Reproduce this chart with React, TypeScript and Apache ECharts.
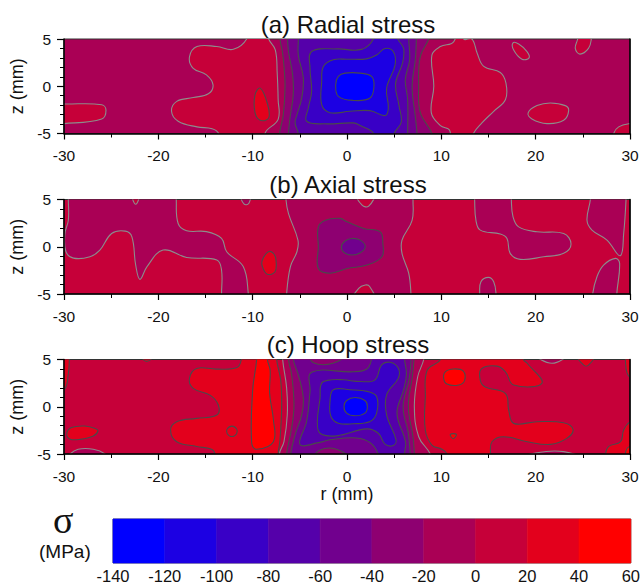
import React, { useEffect, useRef } from "react";
import * as echarts from "echarts";

type Pt = [number, number];
type Region = [number, Pt[]];

const FONT = "'Liberation Sans', Arial, sans-serif";
const colorLevels = [-140, -120, -100, -80, -60, -40, -20, 0, 20, 40, 60];
const bandColors = ["#0000ff", "#1c00e3", "#3900c6", "#5500aa", "#71008e", "#8e0071", "#aa0055", "#c60039", "#e3001c", "#ff0000"];
const colorTickLabels = ["-140", "-120", "-100", "-80", "-60", "-40", "-20", "0", "20", "40", "60"];
const titles = ["(a) Radial stress", "(b) Axial stress", "(c) Hoop stress"];

const radialRegions: Region[] = [
  [7, [[-32, -1.85], [-30, -1.88], [-26, -1.95], [-25.55, -2.54], [-26, -3.46], [-30, -3.95], [-32, -3.95]]],
  [7, [[-10.3, 7], [-10.64, 5], [-12.05, 3.91], [-13.8, 4.2], [-15.9, 4.2], [-16.7, 3.1], [-16.3, 1.9], [-14.9, 1.2], [-14.2, 0.15], [-14.7, -0.8], [-16.3, -1.2], [-18.05, -1.6], [-18.6, -2.65], [-17.9, -3.7], [-15.9, -4.3], [-14.3, -4.5], [-13.6, -5], [-13, -7], [-8.3, -7], [-8.7, -5], [-7.3, -3.5], [-7.3, -1.4], [-7.4, 1.4], [-7.6, 3.85], [-8.3, 5], [-8.8, 7]]],
  [8, [[-9.2, -0.2], [-9.75, -0.9], [-9.75, -2.8], [-9.2, -3.6], [-8.3, -3.35], [-8.45, -1.8]]],
  [7, [[12, 7], [12.37, 5], [13.25, 5], [13.8, 3.5], [14.5, 2.1], [16.25, 1.46], [16.85, 0.33], [16.8, -1.4], [15.55, -2.65], [14.3, -3.88], [13.4, -5], [12.8, -7], [11, -7], [10.9, -4.7], [9.9, -4.16], [8.94, -2.82], [9.2, 0], [9, 3.3], [9.9, 4.2], [11.3, 4.7]]],
  [7, [[17.6, 4.6], [17.67, 3.84], [18.55, 2.86], [19.3, 3], [19.08, 3.67], [18.2, 4.47]]],
  [7, [[24.7, 7], [24.45, 5], [24.2, 4], [24.7, 3.4], [25.6, 4], [25.9, 5], [26, 7]]],
  [7, [[19.2, -2.82], [20.14, -2.05], [21.55, -1.77], [23.14, -2.05], [23.5, -2.58], [22.97, -3.6], [21.2, -3.95], [19.6, -3.46]]],
  [7, [[28, -7], [28.27, -5], [28.8, -4.3], [30, -3.95], [32, -3.8], [32, -7]]],
  [5, [[-7.1, 7], [-7.1, 5], [-6.8, 3.3], [-6.57, 0.2], [-6.75, -3], [-7.15, -5], [-7.15, -7], [9.3, -7], [9, -5], [7.77, -2.8], [7.6, 0], [7.77, 3.14], [8.66, 5], [9.2, 7]]],
  [4, [[-6.3, 7], [-6.3, 5], [-6.2, 3.67], [-5.76, 1.2], [-5.7, -0.9], [-6.04, -3.35], [-6.2, -5], [-6.2, -7], [7.45, -7], [7.42, -5], [7.24, -3.2], [6.9, 0], [7.24, 2.8], [7.35, 5], [7.35, 7]]],
  [3, [[-5.16, 7], [-5.16, 5], [-5.16, 3.3], [-4.63, 0.86], [-4.8, -1.25], [-5.3, -3], [-5.5, -3.9], [-5.16, -5], [-5.1, -7], [6.43, -7], [6.43, -5], [6.43, -1.42], [6.18, 0.68], [6.64, 2.8], [6.54, 5], [6.54, 7]]],
  [2, [[3.2, 7], [2.8, 5], [1.55, 3.9], [-1.1, 3.95], [-3.75, 3.67], [-3.92, 1.9], [-3.75, -0.54], [-4.1, -2.3], [-4.28, -3.7], [-2.16, -3.98], [0.67, -3.88], [1.4, -4.16], [2.83, -5], [3.2, -7], [4.6, -7], [5, -5], [5.75, -3.8], [5.5, -2], [5.15, 0.3], [5.9, 2.5], [6, 4], [5.4, 5], [5, 7]]],
  [1, [[-0.03, 2.86], [-1.45, 2.8], [-2.5, 2.1], [-2.68, 0.5], [-2.68, -1.95], [-1.8, -2.8], [0.3, -2.65], [2.44, -2.58], [4.03, -3.1], [4.38, -2.3], [4.2, -0.2], [5.1, 2.26], [4.9, 3.67], [4.03, 4], [3.14, 3.3], [2.08, 2.9]]],
  [0, [[-0.92, 1.04], [-1.2, 0.16], [-0.92, -1.07], [0.67, -1.5], [2.44, -1.25], [2.86, 0], [2.6, 1.04], [1.38, 1.39], [-0.2, 1.39]]],
];

const axialRegions: Region[] = [
  [6, [[-29.54, 7], [-29.54, 5], [-29.54, 2.8], [-29.9, 1.4], [-29.8, -0.5], [-29, -1.2], [-27.25, -1.05], [-26.2, -0.35], [-24.95, 1.4], [-23.5, 1.65], [-22.8, 1.05], [-22.4, -1.95], [-21.95, -3.45], [-21.2, -2.1], [-19.5, -0.35], [-17, -1.13], [-13.8, -1.4], [-13.3, -2.46], [-13.3, -5], [-13.3, -7], [-10.4, -7], [-10.46, -5], [-11, -2.1], [-12.75, -0.53], [-13.3, 0.88], [-14.9, 1.6], [-17, 1.7], [-17.9, 2.46], [-18.1, 5], [-18.1, 7]]],
  [7, [[-22.8, 5.6], [-22.4, 4.5], [-22, 5.6]]],
  [6, [[-11.3, 5.6], [-10.9, 4.5], [-10.4, 4.6], [-10.3, 5.6]]],
  [8, [[-8.34, -0.53], [-8.97, -1.4], [-8.97, -2.1], [-8.45, -2.9], [-7.63, -2.64], [-7.53, -1.4], [-7.8, -0.7]]],
  [6, [[-6.5, 7], [-6.47, 5], [-6.2, 3.5], [-5.2, 0.7], [-5.3, -0.5], [-6, -2.1], [-6.4, -5], [-6.4, -7], [6.8, -7], [6.78, -5], [6.54, -2.8], [5.83, -0.7], [5.83, 0.7], [6.9, 2.8], [7, 5], [7, 7]]],
  [7, [[1, 5.6], [1.6, 4.4], [2.3, 4.3], [2.9, 5.6]]],
  [7, [[0.5, -5.8], [1.24, -4.4], [1.94, -4.05], [2.4, -4.2], [3, -5.8]]],
  [5, [[-3.04, 2.1], [-2.3, 2.8], [-0.74, 3], [0, 2.64], [1.77, 1.94], [3.53, 1.58], [3.8, 0.35], [3.7, -1.06], [2.12, -1.94], [0, -2.3], [-1.77, -2.8], [-3.04, -2.3], [-3.04, 0]]],
  [4, [[-0.6, 0], [-0.18, 0.63], [0.53, 0.88], [1.41, 0.7], [1.94, 0], [1.41, -0.63], [0.53, -0.88], [-0.28, -0.63]]],
  [6, [[13.5, 7], [13.53, 5], [13.67, 2.8], [14.13, 1.76], [16.25, 1.34], [16.96, 0.88], [17.3, -0.7], [18.37, -1.34], [20.85, -1.06], [22.97, -0.7], [23.75, 0.28], [22.97, 1.4], [20.14, 1.58], [18.2, 2.1], [17.6, 3.17], [17.42, 5], [17.4, 7]]],
  [6, [[25.9, 7], [25.8, 5], [25.44, 2.8], [25.97, 1.76], [27.56, 0.7], [28.97, -0.95], [29.33, 1.4], [29.58, 5], [29.6, 7]]],
  [6, [[26, -7], [26.04, -5], [26.5, -3.17], [27.2, -1.94], [28.45, -1.23], [28.9, -1.76], [28.6, -5], [28.6, -7]]],
  [6, [[14, -7], [14.06, -5], [14.2, -3.7], [15, -3.24], [15.55, -3.7], [15.8, -5], [15.8, -7]]],
];

const hoopRegions: Region[] = [
  [8, [[-32, 7], [-29.3, 7], [-29.43, 5], [-29.54, 3.5], [-30, 1.76], [-32, 0.8]]],
  [8, [[-29.7, -2.8], [-29.2, -2.2], [-27.8, -2.04], [-26.7, -2.3], [-26.4, -2.56], [-26.9, -3.1], [-28.3, -3.45], [-29.4, -3.4]]],
  [6, [[-30, -5.9], [-29.36, -5], [-28.5, -4.5], [-26.9, -4.5], [-25.65, -5], [-25, -5.9]]],
  [8, [[-21.9, 5.5], [-21.24, 4.8], [-20.4, 5.5]]],
  [8, [[-11, 7], [-11.2, 5], [-11.66, 4.15], [-13.85, 3.98], [-15.93, 4.05], [-16.7, 3], [-16.3, 1.94], [-14.52, 1.23], [-13.64, 0.18], [-13.8, -0.88], [-15.93, -1.23], [-18.05, -1.58], [-18.7, -2.46], [-18.05, -3.7], [-15.93, -4.2], [-14.35, -4.5], [-14, -5], [-13.9, -7], [-7.3, -7], [-7.3, -5], [-7.1, -3.5], [-6.93, 0], [-7.03, 2.8], [-7.46, 5], [-7.5, 7]]],
  [9, [[-9.6, 7], [-9.58, 5], [-10, 1.76], [-10.1, -3.87], [-9.58, -4.5], [-7.8, -3.7], [-7.8, -1.4], [-8.2, 1.4], [-8.15, 3.87], [-8.44, 5], [-8.44, 7]]],
  [8, [[-12.2, -2.05], [-11.7, -2.35], [-11.7, -2.85], [-12.2, -3.15], [-12.7, -2.85], [-12.7, -2.35]]],
  [8, [[10.2, 7], [9.9, 5], [8.5, 3.87], [8.3, 1.05], [8.3, -2.46], [9, -4.05], [10.07, -4.5], [10.6, -5], [10.8, -7], [15.1, -7], [15.2, -5], [15.37, -3.7], [16.6, -3.17], [19.1, -3.7], [21.55, -3.98], [23.3, -3.35], [23.96, -2.4], [22.97, -1.7], [20.14, -1.58], [17.67, -1.76], [17.14, -0.35], [16.8, 1.4], [14.66, 2.1], [14.13, 2.8], [14.24, 4], [15.9, 4.3], [16.8, 3.7], [17.67, 2.3], [20.67, 2.5], [19.1, 4.6], [18.7, 5], [18.4, 7]]],
  [9, [[10.25, 3], [10.42, 3.7], [11.3, 4], [12.3, 3.8], [12.47, 2.8], [11.84, 2.3], [10.6, 2.4]]],
  [9, [[10.95, -2.92], [11.6, -2.92], [11.25, -3.38]]],
  [8, [[24.3, 5.6], [25.1, 4.4], [25.6, 4.4], [26.3, 5.6]]],
  [6, [[20, 5.5], [21.73, 4.6], [23.3, 5.5]]],
  [6, [[18, -5.6], [20.14, -4.86], [22.97, -4.75], [25.3, -5.6]]],
  [8, [[29.4, 7], [29.5, 5], [29.9, 3.2], [32, 2], [32, 7]]],
  [8, [[27.2, -7], [27.4, -5], [27.74, -4.2], [29, -3.7], [29.33, -2.46], [30, -1.6], [32, -0.8], [32, -7]]],
  [9, [[29.3, -7], [29.5, -5], [29.7, -4.4], [30, -4.2], [32, -4], [32, -7]]],
  [6, [[-6.85, 7], [-6.82, 5], [-6.4, 2], [-6.33, -0.85], [-6.68, -3.68], [-7.17, -5], [-7.2, -7], [9.4, -7], [8.83, -5], [7.6, -3.17], [7.14, 0], [7.5, 3.2], [8.13, 5], [8.3, 7]]],
  [5, [[-6.2, 7], [-6.2, 5], [-5.87, 3.38], [-5.62, 0.2], [-5.87, -2.27], [-6.4, -5], [-6.4, -7], [7.3, -7], [7.15, -5], [7, -3.2], [6.5, 0], [6.9, 3], [7.1, 5], [7.1, 7]]],
  [4, [[-5.69, 7], [-5.69, 5], [-5.16, 3.38], [-4.63, 0.9], [-4.8, -0.86], [-5.5, -2.97], [-5.97, -5], [-6, -7], [6.8, -7], [6.7, -5], [6.5, -2.8], [5.95, 0], [6.6, 3], [6.8, 5], [6.8, 7]]],
  [5, [[-3.9, 5.7], [-3.55, 4.65], [-1.5, 4.6], [0.1, 5.7]]],
  [5, [[-3.6, -5.7], [-2.9, -4.6], [-1.1, -4.5], [0.5, -5.7]]],
  [3, [[3, 7], [2.6, 5], [2.1, 4], [0.67, 3.7], [-3.75, 3.65], [-3.92, 1.6], [-4.28, -1.56], [-4.98, -4], [-3, -3.8], [-1.8, -3.5], [1, -3.3], [2.45, -3.8], [3.3, -5], [3.6, -7], [6.1, -7], [6.1, -5], [6.2, -3.7], [5.3, -0.7], [6, 1.8], [6.3, 3.5], [6.1, 5], [6.1, 7]]],
  [2, [[-1.63, 2.85], [-2.68, 2.5], [-2.86, 0.9], [-3.14, -1.56], [-2.86, -2.8], [-1.1, -3.08], [2.08, -2.34], [3.32, -2.8], [4.03, -3.96], [4.9, -4.1], [5.2, -3.5], [4.2, -0.86], [4.2, 1.26], [5.44, 3.03], [5.44, 4.08], [4.56, 4.7], [3.67, 4.44], [2.97, 2.85], [1.38, 2.67], [-0.39, 2.85]]],
  [1, [[-1.45, 1.8], [-1.8, 0.56], [-1.7, -1.03], [-0.92, -1.74], [0.67, -1.8], [2.44, -1.56], [3.14, -0.68], [3.14, 1.08], [2.26, 1.6], [0.32, 1.8]]],
  [0, [[-0.32, 0.03], [-0.04, 0.66], [0.85, 0.98], [1.9, 0.66], [2.16, 0.03], [1.9, -0.68], [0.85, -0.96], [-0.04, -0.68]]],
];

const panelBase = [6, 7, 7];
const panelRegions = [radialRegions, axialRegions, hoopRegions];
const panelTop = [39, 199.5, 359.5];
const PLOT_H = 94.5;

function contourSeries(regions: Region[], i: number) {
  return {
    type: "custom",
    xAxisIndex: i,
    yAxisIndex: i,
    clip: true,
    silent: true,
    z: 2,
    data: regions.map((_, k) => [k]),
    encode: { x: -1, y: -1 },
    renderItem: (params: any, api: any) => {
      const [band, pts] = regions[params.dataIndexInside];
      return {
        type: "polygon",
        shape: { points: pts.map((p) => api.coord(p)), smooth: 0.4 },
        style: {
          fill: bandColors[band],
          stroke: band === 6 || band === 7 ? "#8c8c8c" : "#4a4a4a",
          lineWidth: 1.1,
        },
      };
    },
  };
}

export default function App() {
  const ref = useRef<HTMLDivElement>(null);
  useEffect(() => {
    const chart = echarts.init(ref.current!, undefined, { renderer: "svg" });
    const xAxes: any[] = panelTop.map((_, i) => ({
      type: "value",
      gridIndex: i,
      min: -30,
      max: 30,
      interval: 10,
      z: 5,
      axisLine: { show: true, onZero: false, lineStyle: { color: "#000", width: 1.5 } },
      axisTick: { show: true, length: 6, lineStyle: { color: "#000", width: 1.2 } },
      minorTick: { show: true, splitNumber: 2, length: 4, lineStyle: { color: "#000", width: 1 } },
      splitLine: { show: false },
      axisLabel: { color: "#111", fontFamily: FONT, fontSize: 15.5, margin: 14 },
    }));
    const yAxes: any[] = panelTop.map((_, i) => ({
      type: "value",
      gridIndex: i,
      min: -5,
      max: 5,
      interval: 5,
      z: 5,
      axisLine: { show: true, onZero: false, lineStyle: { color: "#000", width: 1.5 } },
      axisTick: { show: true, length: 7, lineStyle: { color: "#000", width: 1.2 } },
      minorTick: { show: true, splitNumber: 5, length: 4, lineStyle: { color: "#000", width: 1 } },
      splitLine: { show: false },
      axisLabel: { color: "#111", fontFamily: FONT, fontSize: 15.5, margin: 13 },
      name: "z (mm)",
      nameLocation: "middle",
      nameGap: 32,
      nameTextStyle: { color: "#111", fontFamily: FONT, fontSize: 18 },
    }));
    xAxes[2].name = "r (mm)";
    xAxes[2].nameLocation = "middle";
    xAxes[2].nameGap = 29;
    xAxes[2].nameTextStyle = { color: "#111", fontFamily: FONT, fontSize: 18 };

    // colour bar
    xAxes.push({
      type: "value",
      gridIndex: 3,
      min: -140,
      max: 60,
      interval: 20,
      axisLine: { show: false },
      axisTick: { show: false },
      splitLine: { show: false },
      axisLabel: {
        color: "#111",
        fontFamily: FONT,
        fontSize: 16.5,
        margin: 4,
        formatter: (v: number) => colorTickLabels[colorLevels.indexOf(v)],
      },
    });
    yAxes.push({ type: "value", gridIndex: 3, min: 0, max: 1, show: false });
    panelTop.forEach((_, i) => {
      yAxes.push({
        type: "value",
        gridIndex: i,
        position: "right",
        min: -5,
        max: 5,
        interval: 5,
        z: 5,
        axisLine: { show: true, onZero: false, lineStyle: { color: "#000", width: 1.5 } },
        axisTick: { show: false },
        axisLabel: { show: false },
        splitLine: { show: false },
      });
    });

    const series: any[] = panelRegions.map((r, i) => contourSeries(r, i));
    series.push({
      type: "custom",
      xAxisIndex: 3,
      yAxisIndex: 3,
      silent: true,
      data: bandColors.map((_, k) => [colorLevels[k], colorLevels[k + 1]]),
      encode: { x: [0, 1] },
      renderItem: (_: any, api: any) => {
        const a = api.coord([api.value(0), 1]);
        const b = api.coord([api.value(1), 0]);
        const fill = bandColors[colorLevels.indexOf(api.value(0))];
        return {
          type: "rect",
          shape: { x: a[0], y: a[1], width: b[0] - a[0], height: b[1] - a[1] },
          style: { fill, stroke: fill, lineWidth: 0.6 },
        };
      },
    });

    chart.setOption({
      animation: false,
      backgroundColor: "#ffffff",
      title: titles.map((t, i) => ({
        text: t,
        left: 348,
        top: panelTop[i] - 27,
        textAlign: "center",
        padding: 0,
        textStyle: { color: "#111", fontFamily: FONT, fontSize: 24, fontWeight: "normal" },
      })),
      grid: [
        ...panelTop.map((top, i) => ({
          left: 64,
          top,
          width: 566,
          height: PLOT_H,
          show: true,
          backgroundColor: bandColors[panelBase[i]],
          borderColor: "#333",
          borderWidth: 1,
        })),
        { left: 113, top: 519, width: 519, height: 44, show: true, borderColor: "#555", borderWidth: 1, backgroundColor: "transparent" },
      ],
      xAxis: xAxes,
      yAxis: yAxes,
      series,
      graphic: [
        { type: "text", left: 53, top: 501, style: { text: "σ", font: "38px 'Liberation Serif', serif", fill: "#111" } },
        { type: "text", left: 39, top: 542, style: { text: "(MPa)", font: `19px ${FONT}`, fill: "#111" } },
      ],
    });
    return () => chart.dispose();
  }, []);
  return <div ref={ref} style={{ position: "fixed", left: 0, top: 0, width: 643, height: 586 }} />;
}
